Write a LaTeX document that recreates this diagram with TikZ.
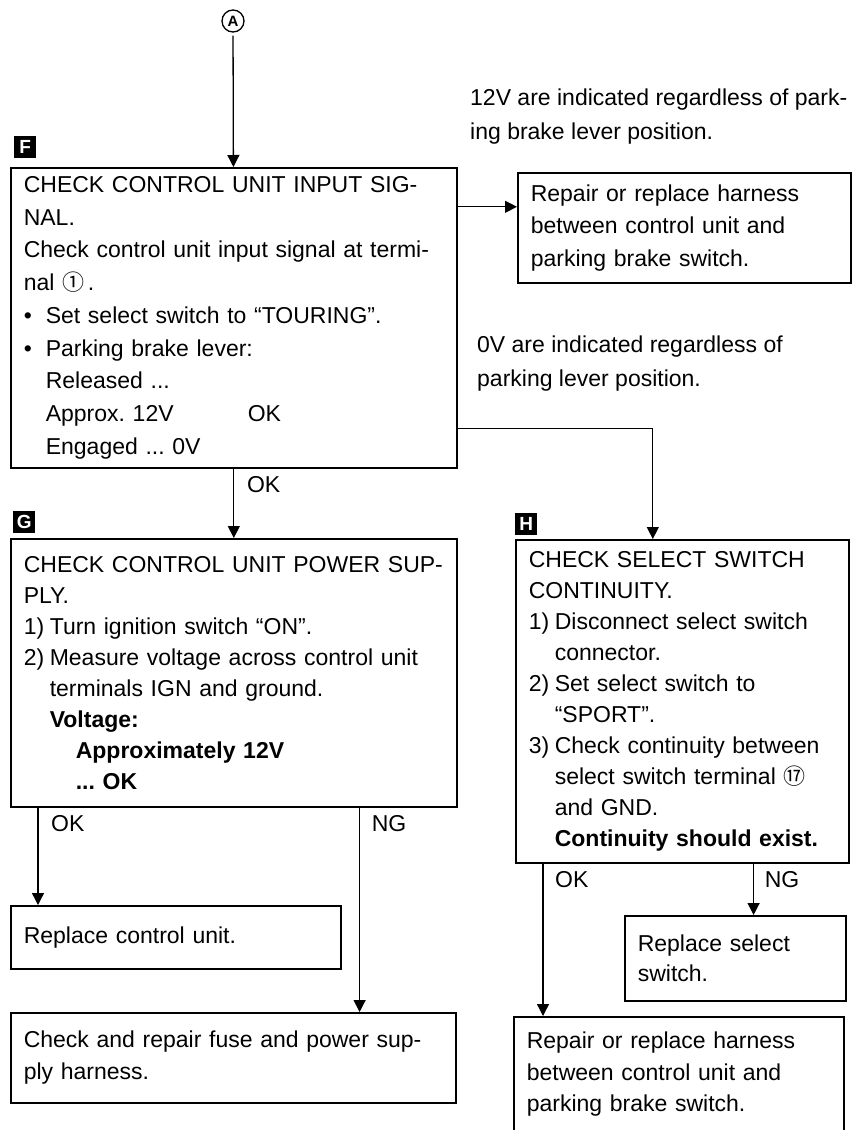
\documentclass[tikz,border=0pt]{standalone}
\usepackage{fontspec}
\setmainfont{Liberation Sans}
\newfontfamily\symfont{Noto Sans CJK SC}
\usetikzlibrary{arrows.meta,positioning}

\begin{document}
\frenchspacing
\begin{tikzpicture}[x=1pt,y=-1pt]
\tikzset{
  stepbox/.style={draw=black,line width=1.6pt,anchor=north west,align=left,inner xsep=13pt,inner ysep=0pt,font=\fontsize{23}{31}\selectfont},
  notetext/.style={anchor=north west,align=left,inner sep=0pt,font=\fontsize{23}{34}\selectfont},
  tagbox/.style={fill=black,text=white,inner sep=0pt,minimum size=22pt,font=\fontsize{19}{19}\selectfont\bfseries},
  branchlabel/.style={inner sep=0pt,font=\fontsize{23}{23}\selectfont},
  flowline/.style={draw=black,line width=1.3pt},
  flowarrow/.style={flowline,-{Triangle[length=12pt,width=12pt]}}
}
\useasboundingbox (0,0) rectangle (858,1130);
\clip (0,0) rectangle (858,1130);

% start mark
\node[circle,draw=black,line width=1.3pt,minimum size=22pt,inner sep=0pt,font=\fontsize{15}{15}\selectfont\bfseries] (n_A) at (233,21) {A};

% notes
\node[notetext] (n_note12) at (470,89) {12V are indicated regardless of park-\\ing brake lever position.};
\node[notetext] (n_note0) at (477,336) {0V are indicated regardless of\\parking lever position.};

% step F
\node[stepbox,text width=420pt,minimum height=300pt,font=\fontsize{23}{32.75}\selectfont] (n_F) at (10,167)
  {CHECK CONTROL UNIT INPUT SIG-\\
   NAL.\\
   Check control unit input signal at termi-\\
   nal {\symfont\fontsize{22}{22}\selectfont ①}\,.\\
   \makebox[22pt][l]{•}Set select switch to “TOURING”.\\
   \makebox[22pt][l]{•}Parking brake lever:\\
   \hspace*{22pt}Released ...\\
   \hspace*{22pt}\makebox[202pt][l]{Approx. 12V}OK\\
   \hspace*{22pt}Engaged ... 0V};
\node[tagbox,above right=9pt and 4pt of n_F.north west] (n_tagF) {F};

\node[stepbox,text width=307pt,minimum height=110pt,font=\fontsize{23}{32.5}\selectfont] (n_R1) at (517,172)
  {Repair or replace harness\\between control unit and\\parking brake switch.};

% step G
\node[stepbox,text width=420pt,minimum height=268pt] (n_G) at (10,538)
  {CHECK CONTROL UNIT POWER SUP-\\
   PLY.\\
   \makebox[26pt][l]{1)}Turn ignition switch “ON”.\\
   \makebox[26pt][l]{2)}Measure voltage across control unit\\
   \hspace*{26pt}terminals IGN and ground.\\
   \hspace*{26pt}\textbf{Voltage:}\\
   \hspace*{52pt}\textbf{Approximately 12V}\\
   \hspace*{52pt}\textbf{... OK}};
\node[tagbox,above right=5pt and 3pt of n_G.north west] (n_tagG) {G};

% step H
\node[stepbox,text width=307pt,minimum height=323pt] (n_H) at (515,539)
  {CHECK SELECT SWITCH\\
   CONTINUITY.\\
   \makebox[26pt][l]{1)}Disconnect select switch\\
   \hspace*{26pt}connector.\\
   \makebox[26pt][l]{2)}Set select switch to\\
   \hspace*{26pt}“SPORT”.\\
   \makebox[26pt][l]{3)}Check continuity between\\
   \hspace*{26pt}select switch terminal {\symfont\fontsize{22}{22}\selectfont ⑰}\\
   \hspace*{26pt}and GND.\\
   \hspace*{26pt}\textbf{Continuity should exist.}};
\node[tagbox,above right=4pt and 0pt of n_H.north west] (n_tagH) {H};

% results
\node[stepbox,text width=304pt,minimum height=63pt] (n_RC) at (10,905) {Replace control unit.};
\node[stepbox,text width=419pt,minimum height=90pt,font=\fontsize{23}{32}\selectfont] (n_CR) at (10,1012)
  {Check and repair fuse and power sup-\\ply harness.};
\node[stepbox,text width=195pt,minimum height=85pt,font=\fontsize{23}{30}\selectfont] (n_RS) at (624,915)
  {Replace select\\switch.};
\node[stepbox,text width=304pt,minimum height=142pt,font=\fontsize{23}{31.5}\selectfont] (n_RB) at (513,1016)
  {Repair or replace harness\\between control unit and\\parking brake switch.\\\mbox{}};

% connectors
\draw[flowarrow,shorten <=3pt] (n_A) -- (n_F);
\coordinate (n_r1in) at ([yshift=21pt]n_R1.west);
\draw[flowarrow] (n_F.east |- n_r1in) -- (n_r1in);
\coordinate (n_hin) at ([xshift=-29.5pt]n_H.north);
\draw[flowarrow] ([yshift=40pt]n_F.south east) -| (n_hin);
\draw[flowarrow] (n_F) -- (n_G);
\node[branchlabel,below right=8pt and 13pt of n_F.south] (n_okF) {OK};

\coordinate (n_gok) at ([xshift=28pt]n_G.south west);
\coordinate (n_gng) at ([xshift=-98pt]n_G.south east);
\draw[flowarrow] (n_gok) -- (n_gok |- n_RC.north);
\draw[flowarrow] (n_gng) -- (n_gng |- n_CR.north);
\node[branchlabel,below right=8pt and 13pt of n_gok] (n_okG) {OK};
\node[branchlabel,below right=8pt and 12pt of n_gng] (n_ngG) {NG};

\coordinate (n_hok) at ([xshift=28pt]n_H.south west);
\coordinate (n_hng) at ([xshift=-96pt]n_H.south east);
\draw[flowarrow] (n_hok) -- (n_hok |- n_RB.north);
\draw[flowarrow] (n_hng) -- (n_hng |- n_RS.north);
\node[branchlabel,below right=8pt and 12pt of n_hok] (n_okH) {OK};
\node[branchlabel,below right=8pt and 11pt of n_hng] (n_ngH) {NG};
\end{tikzpicture}
\end{document}
